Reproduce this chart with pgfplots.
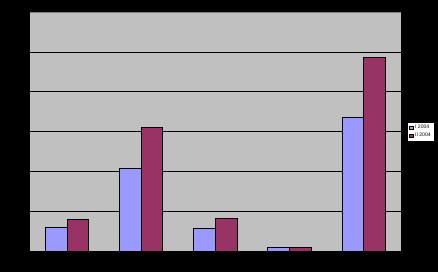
\documentclass[border=0pt]{standalone}
\usepackage{fontspec}
\setmainfont{Liberation Sans}
\usepackage{pgfplots}
\pgfplotsset{compat=1.18}
\definecolor{plotgray}{HTML}{C0C0C0}
\definecolor{serA}{HTML}{9999FF}
\definecolor{serB}{HTML}{993366}
\begin{document}
\begin{tikzpicture}[x=1pt,y=1pt]
\path[use as bounding box, fill=black] (0,0) rectangle (438,272);
\begin{axis}[
  at={(30pt,21pt)}, anchor=south west,
  scale only axis, width=370.7pt, height=238.7pt,
  axis background/.style={fill=plotgray},
  xmin=-0.5, xmax=4.5, ymin=0, ymax=6,
  ytick={0,1,2,3,4,5,6}, xtick=\empty,
  yticklabels={}, major tick length=0pt,
  ymajorgrids, grid style={black, line width=0.9pt},
  axis line style={draw=none},
  ybar=0pt, bar width=21.6pt,
  legend style={at={(1,0.5)}, anchor=west, xshift=6.6pt,
    draw=black, line width=0.4pt, fill=white,
    font=\fontsize{5.1}{6}\selectfont, inner xsep=1.2pt, inner ysep=1pt,
    row sep=-0.8pt, legend cell align=left},
  legend image code/.code={\draw[#1, line width=0.4pt] (0pt,-1.8pt) rectangle (4pt,1.8pt);},
]
\addplot[fill=serA, draw=black, line width=0.9pt] coordinates {(0,0.60) (1,2.08) (2,0.57) (3,0.09) (4,3.36)};
\addplot[fill=serB, draw=black, line width=0.9pt] coordinates {(0,0.80) (1,3.11) (2,0.82) (3,0.09) (4,4.87)};
\legend{I 2004, II 2004}
\end{axis}
\draw[gray, line width=0.9pt] (30,259.7) -- (400.7,259.7);
\end{tikzpicture}
\end{document}
